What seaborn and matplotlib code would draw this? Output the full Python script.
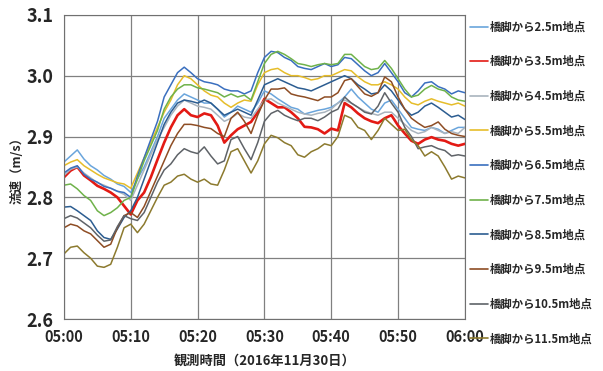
import pandas as pd
import matplotlib
matplotlib.use("Agg")
import matplotlib.pyplot as plt
import matplotlib.dates as mdates
import seaborn as sns

# 観測値 (1分ごと, 05:00-06:00)
minutes = list(range(61))

v_2_5 = [2.858, 2.868, 2.878, 2.863, 2.852, 2.845, 2.836, 2.830, 2.822, 2.818, 2.808,
         2.830, 2.850, 2.875, 2.900, 2.930, 2.945, 2.960, 2.970, 2.965, 2.960,
         2.955, 2.955, 2.945, 2.932, 2.940, 2.950, 2.945, 2.940, 2.955, 2.975,
         2.970, 2.962, 2.955, 2.948, 2.945, 2.937, 2.940, 2.943, 2.945, 2.948,
         2.955, 2.965, 2.978, 2.965, 2.955, 2.945, 2.940, 2.955, 2.960, 2.945,
         2.930, 2.915, 2.912, 2.910, 2.915, 2.912, 2.905, 2.910, 2.915, 2.915]
v_3_5 = [2.833, 2.844, 2.850, 2.836, 2.828, 2.819, 2.814, 2.808, 2.800, 2.786, 2.772,
         2.795, 2.808, 2.833, 2.862, 2.890, 2.915, 2.935, 2.945, 2.935, 2.932,
         2.938, 2.935, 2.918, 2.890, 2.902, 2.912, 2.918, 2.924, 2.940, 2.962,
         2.955, 2.948, 2.948, 2.940, 2.930, 2.916, 2.915, 2.912, 2.905, 2.913,
         2.910, 2.955, 2.948, 2.938, 2.930, 2.925, 2.922, 2.930, 2.935, 2.918,
         2.905, 2.893, 2.888, 2.895, 2.899, 2.895, 2.893, 2.888, 2.885, 2.888]
v_4_5 = [2.836, 2.846, 2.850, 2.840, 2.832, 2.824, 2.820, 2.815, 2.810, 2.805, 2.795,
         2.820, 2.845, 2.870, 2.895, 2.915, 2.935, 2.950, 2.960, 2.955, 2.950,
         2.948, 2.945, 2.935, 2.925, 2.930, 2.938, 2.932, 2.930, 2.945, 2.960,
         2.962, 2.955, 2.950, 2.945, 2.940, 2.937, 2.935, 2.938, 2.940, 2.945,
         2.955, 2.960, 2.955, 2.948, 2.942, 2.938, 2.935, 2.940, 2.940, 2.930,
         2.920, 2.910, 2.905, 2.908, 2.915, 2.910, 2.905, 2.908, 2.905, 2.915]
v_5_5 = [2.852, 2.858, 2.862, 2.852, 2.845, 2.838, 2.832, 2.828, 2.824, 2.822, 2.815,
         2.840, 2.865, 2.890, 2.915, 2.940, 2.960, 2.985, 3.000, 2.995, 2.985,
         2.975, 2.968, 2.965, 2.955, 2.948, 2.955, 2.960, 2.958, 2.985, 3.005,
         3.010, 3.012, 3.005, 3.000, 3.000, 2.997, 2.993, 2.995, 3.000, 3.000,
         3.005, 3.010, 3.008, 2.998, 2.990, 2.985, 2.985, 2.990, 2.985, 2.978,
         2.965, 2.955, 2.952, 2.958, 2.962, 2.958, 2.955, 2.952, 2.955, 2.950]
v_6_5 = [2.840, 2.848, 2.852, 2.838, 2.830, 2.825, 2.818, 2.815, 2.810, 2.808, 2.800,
         2.835, 2.865, 2.895, 2.925, 2.965, 2.985, 3.005, 3.014, 3.005, 2.995,
         2.990, 2.988, 2.985, 2.978, 2.975, 2.975, 2.970, 2.975, 3.005, 3.030,
         3.040, 3.038, 3.030, 3.025, 3.015, 3.012, 3.010, 3.015, 3.020, 3.015,
         3.018, 3.030, 3.028, 3.018, 3.008, 3.000, 3.005, 3.020, 3.005, 2.990,
         2.972, 2.965, 2.975, 2.988, 2.990, 2.982, 2.978, 2.970, 2.975, 2.972]
v_7_5 = [2.820, 2.822, 2.814, 2.803, 2.795, 2.778, 2.770, 2.775, 2.783, 2.795, 2.800,
         2.830, 2.860, 2.885, 2.910, 2.945, 2.965, 2.978, 2.985, 2.985, 2.980,
         2.978, 2.975, 2.972, 2.965, 2.970, 2.965, 2.968, 2.960, 2.990, 3.020,
         3.035, 3.040, 3.035, 3.028, 3.020, 3.018, 3.015, 3.018, 3.020, 3.018,
         3.020, 3.035, 3.035, 3.025, 3.015, 3.010, 3.012, 3.025, 3.012, 2.995,
         2.978, 2.965, 2.968, 2.978, 2.984, 2.978, 2.975, 2.965, 2.960, 2.958]
v_8_5 = [2.784, 2.785, 2.778, 2.770, 2.762, 2.745, 2.734, 2.731, 2.748, 2.767, 2.778,
         2.800, 2.830, 2.860, 2.890, 2.920, 2.940, 2.955, 2.960, 2.958, 2.955,
         2.960, 2.955, 2.945, 2.935, 2.940, 2.945, 2.940, 2.935, 2.960, 2.985,
         2.990, 2.995, 2.990, 2.985, 2.980, 2.978, 2.975, 2.980, 2.985, 2.990,
         2.995, 3.000, 2.995, 2.985, 2.978, 2.970, 2.972, 2.985, 2.975, 2.960,
         2.945, 2.935, 2.940, 2.950, 2.955, 2.948, 2.940, 2.932, 2.935, 2.928]
v_9_5 = [2.750, 2.756, 2.753, 2.745, 2.740, 2.729, 2.718, 2.723, 2.750, 2.770, 2.775,
         2.767, 2.785, 2.810, 2.835, 2.860, 2.885, 2.905, 2.920, 2.920, 2.918,
         2.915, 2.913, 2.905, 2.900, 2.930, 2.940, 2.925, 2.905, 2.935, 2.960,
         2.978, 2.978, 2.980, 2.970, 2.967, 2.965, 2.962, 2.959, 2.965, 2.965,
         2.972, 2.992, 2.995, 2.982, 2.970, 2.966, 2.972, 2.998, 2.990, 2.965,
         2.945, 2.930, 2.922, 2.915, 2.918, 2.924, 2.912, 2.905, 2.902, 2.900]
v_10_5 = [2.765, 2.770, 2.766, 2.758, 2.750, 2.738, 2.728, 2.730, 2.752, 2.770, 2.765,
          2.762, 2.775, 2.800, 2.825, 2.845, 2.855, 2.870, 2.880, 2.875, 2.872,
          2.883, 2.868, 2.855, 2.860, 2.895, 2.900, 2.880, 2.862, 2.890, 2.925,
          2.938, 2.943, 2.935, 2.930, 2.926, 2.930, 2.930, 2.926, 2.932, 2.940,
          2.945, 2.965, 2.955, 2.948, 2.940, 2.937, 2.950, 2.972, 2.955, 2.940,
          2.915, 2.900, 2.880, 2.883, 2.885, 2.880, 2.877, 2.868, 2.870, 2.868]
v_11_5 = [2.707, 2.718, 2.720, 2.709, 2.700, 2.687, 2.685, 2.690, 2.718, 2.750, 2.756,
          2.742, 2.756, 2.778, 2.800, 2.820, 2.825, 2.835, 2.838, 2.830, 2.825,
          2.830, 2.822, 2.820, 2.845, 2.875, 2.880, 2.860, 2.840, 2.860, 2.888,
          2.902, 2.898, 2.890, 2.885, 2.870, 2.866, 2.875, 2.880, 2.888, 2.885,
          2.900, 2.935, 2.930, 2.915, 2.910, 2.895, 2.910, 2.930, 2.920, 2.910,
          2.912, 2.895, 2.885, 2.868, 2.875, 2.868, 2.850, 2.830, 2.835, 2.832]

labels = ["橋脚から2.5m地点", "橋脚から3.5m地点", "橋脚から4.5m地点", "橋脚から5.5m地点",
          "橋脚から6.5m地点", "橋脚から7.5m地点", "橋脚から8.5m地点", "橋脚から9.5m地点",
          "橋脚から10.5m地点", "橋脚から11.5m地点"]
series = [v_2_5, v_3_5, v_4_5, v_5_5, v_6_5, v_7_5, v_8_5, v_9_5, v_10_5, v_11_5]
colors = ["#6aa5dc", "#e31a14", "#a9b4be", "#e6bd2a", "#3a6fbf",
          "#6fb24a", "#2c5d91", "#8e4d24", "#5f6368", "#8c7a2e"]

sns.set_style("white")
plt.rcParams["font.family"] = ["Noto Sans CJK JP", "DejaVu Sans"]

times = pd.Timestamp("2016-11-30 05:00") + pd.to_timedelta(minutes, unit="min")

fig = plt.figure(figsize=(6.03, 3.71), dpi=100)
ax = fig.add_axes([0.106, 0.140, 0.665, 0.820])

for lab, vals, c in zip(labels, series, colors):
    lw = 1.9 if lab == "橋脚から3.5m地点" else 1.1
    sns.lineplot(x=times, y=vals, color=c, lw=lw, label=lab, ax=ax, legend=False)

ax.set_ylim(2.6, 3.1)
ax.set_yticks([2.6, 2.7, 2.8, 2.9, 3.0, 3.1])
ax.set_xlim(times[0], times[-1])
ax.xaxis.set_major_locator(mdates.MinuteLocator(byminute=range(0, 60, 10)))
ax.xaxis.set_major_formatter(mdates.DateFormatter("%H:%M"))
ax.grid(True, color="#808080", lw=0.9)
for s in ax.spines.values():
    s.set_color("#707070")
ax.tick_params(axis="y", labelsize=13, pad=4)
ax.tick_params(axis="x", labelsize=10.5, pad=4)
for t in ax.get_yticklabels() + ax.get_xticklabels():
    t.set_fontweight("bold")

ax.set_ylabel("流速（m/s）", fontsize=9, fontweight="bold", labelpad=2)
ax.set_xlabel("観測時間（2016年11月30日）", fontsize=9.5, fontweight="bold", labelpad=6)

handles, labs = ax.get_legend_handles_labels()
fig.legend(handles, labs, loc="upper left", bbox_to_anchor=(0.772, 0.957),
           frameon=False, fontsize=8.2, handlelength=1.6, handletextpad=0.15,
           labelspacing=1.9, borderaxespad=0)
leg = fig.legends[0]
for t in leg.get_texts():
    t.set_fontweight("bold")
for l in leg.get_lines():
    l.set_linewidth(1.2)

fig.savefig("out.png", dpi=100)
